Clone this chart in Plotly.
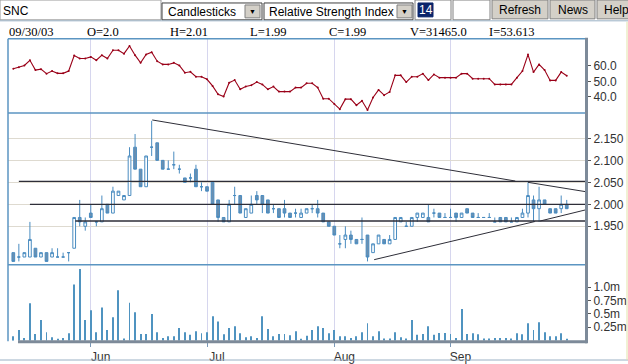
import plotly.graph_objects as go

W, H = 628, 364

# ---------------- data ----------------
open_ = [1.89,1.88,1.88,1.88,1.90,1.88,1.89,1.88,1.88,1.88,1.89,1.90,1.97,1.95,1.98,1.96,1.96,2.00,1.98,2.02,
         2.01,2.02,2.13,2.08,2.04,2.13,2.14,2.10,2.08,2.09,2.08,2.06,2.06,2.08,2.04,2.04,2.05,2.01,1.97,1.96,
         2.02,2.02,1.97,1.98,2.02,2.02,2.01,1.99,1.99,1.99,1.98,1.98,1.97,1.98,1.99,1.99,1.98,1.96,1.95,1.91,
         1.92,1.93,1.92,1.92,1.93,1.89,1.91,1.92,1.91,1.92,1.96,1.95,1.95,1.97,1.97,1.97,1.98,1.98,1.97,1.97,
         1.98,1.97,1.99,1.98,1.97,1.97,1.97,1.96,1.97,1.97,1.96,1.96,1.97,1.98,2.01,1.99,2.01,1.99,1.99,1.99,2.00]
high = [1.89,1.91,1.89,1.96,1.90,1.89,1.89,1.90,1.90,1.89,1.89,1.97,2.01,1.97,2.00,1.96,2.02,2.00,2.04,2.03,
        2.02,2.13,2.16,2.08,2.11,2.19,2.14,2.10,2.10,2.12,2.09,2.06,2.07,2.09,2.05,2.04,2.05,2.01,1.97,2.01,
        2.04,2.02,1.99,2.02,2.03,2.02,2.01,2.00,1.99,2.01,1.98,1.99,1.99,1.99,2.00,2.01,1.98,1.96,1.95,1.93,
        1.95,1.94,1.92,1.97,1.93,1.91,1.93,1.92,1.93,1.97,1.97,1.96,1.97,1.98,1.98,2.00,1.99,1.98,1.98,1.99,
        1.98,1.98,1.99,1.98,1.98,1.97,1.98,1.97,1.97,1.97,1.97,1.97,1.99,2.05,2.02,2.04,2.01,1.99,1.99,2.02,2.01]
low = [1.87,1.87,1.88,1.88,1.88,1.88,1.87,1.88,1.88,1.88,1.87,1.90,1.95,1.94,1.97,1.95,1.96,1.98,1.98,2.02,
       2.01,2.02,2.08,2.04,2.04,2.11,2.10,2.08,2.08,2.08,2.07,2.05,2.05,2.04,2.03,2.03,2.00,1.96,1.96,1.96,
       2.00,1.98,1.97,1.98,2.00,1.98,1.98,1.98,1.97,1.97,1.97,1.97,1.97,1.98,1.98,1.97,1.96,1.95,1.93,1.90,
       1.90,1.91,1.91,1.91,1.87,1.89,1.91,1.91,1.91,1.92,1.96,1.95,1.95,1.96,1.97,1.96,1.97,1.97,1.97,1.97,
       1.96,1.97,1.98,1.97,1.97,1.97,1.97,1.96,1.96,1.96,1.96,1.96,1.97,1.97,1.96,1.96,2.00,1.98,1.98,1.98,1.99]
close = [1.87,1.88,1.89,1.92,1.88,1.89,1.87,1.89,1.88,1.88,1.89,1.97,1.96,1.96,1.97,1.96,1.99,1.98,2.03,2.03,
         2.02,2.11,2.08,2.04,2.11,2.13,2.10,2.08,2.08,2.09,2.08,2.05,2.06,2.04,2.04,2.03,2.00,1.97,1.96,2.00,
         2.02,1.98,1.99,2.00,2.01,2.00,1.98,1.99,1.97,1.98,1.97,1.98,1.98,1.99,1.99,1.98,1.96,1.95,1.93,1.91,
         1.93,1.92,1.91,1.92,1.88,1.91,1.93,1.91,1.92,1.97,1.97,1.95,1.97,1.98,1.98,1.96,1.98,1.97,1.97,1.97,
         1.97,1.98,1.98,1.97,1.97,1.97,1.97,1.96,1.96,1.96,1.96,1.97,1.98,2.02,1.99,2.01,2.00,1.98,1.98,2.00,1.99]
volume = [83000,200000,50000,700000,126000,385000,157000,65000,30000,50000,
          139000,1050000,1340000,385000,570000,157000,620000,200000,435000,940000,
          40000,710000,530000,126000,126000,500000,157000,50000,83000,83000,
          237000,157000,110000,176000,139000,157000,454000,360000,120000,237000,
          268000,139000,65000,83000,50000,454000,220000,83000,126000,126000,
          100000,176000,30000,90000,200000,268000,237000,139000,200000,83000,
          83000,50000,83000,157000,324000,83000,176000,40000,40000,157000,
          65000,40000,385000,110000,126000,268000,110000,145000,145000,126000,
          50000,590000,126000,139000,120000,40000,40000,50000,50000,50000,
          40000,139000,120000,324000,200000,343000,157000,83000,83000,139000,31465]
rsi = [58.2,59.2,60.3,63.7,57.3,57.9,55.0,56.7,55.2,55.2,56.7,66.8,64.8,64.8,65.9,63.7,67.0,64.8,70.2,70.2,
       68.0,73.0,67.0,62.0,67.4,68.9,63.1,61.0,61.0,62.0,60.3,55.6,56.2,53.0,53.0,51.3,47.0,41.6,40.1,49.1,
       50.8,44.8,46.6,47.4,49.5,48.0,44.8,46.6,43.3,43.3,43.3,45.9,45.9,48.7,48.7,45.9,38.7,38.7,35.2,31.9,
       38.4,38.4,34.5,37.3,31.3,39.5,44.4,41.0,43.1,53.9,53.9,49.5,53.0,53.0,55.0,50.8,54.5,52.4,52.4,52.4,
       52.4,55.0,55.0,51.7,51.7,51.7,51.7,48.0,48.0,48.0,48.0,52.4,56.7,67.4,56.0,61.0,57.3,50.6,50.6,56.0,53.613]
day_index = list(range(len(open_)))

month_ticks = [14, 35, 58, 79]
month_labels = ["Jun", "Jul", "Aug", "Sep"]
price_ticks = [1.95, 2.00, 2.05, 2.10, 2.15]
rsi_ticks = [40, 50, 60]
vol_ticks = [250000, 500000, 750000, 1000000]
vol_labels = ["0.25m", "0.5m", "0.75m", "1.0m"]

# user-drawn support/resistance lines (start day, start price, end day, end price)
level_start = [1.0, 3.0, 11.2]
level_price = [2.052, 2.000, 1.962]
trend_x0 = [25.1, 93.0, 65.2, 95.2]
trend_y0 = [2.192, 2.050, 1.874, 1.962]
trend_x1 = [90.7, 103.3, 94.3, 103.3]
trend_y1 = [2.053, 2.029, 1.961, 1.987]

symbol = "SNC"
info_labels = ["09/30/03", "O=2.0", "H=2.01", "L=1.99", "C=1.99", "V=31465.0", "I=53.613"]

# ---------------- styling ----------------
X_RANGE = [-0.96, 103.3]
BLUE = "#4a8cc0"
BORDER = "#5b95c2"
GRID_V = "#d6d6ee"
GRID_H = "#dedad0"
TXT = "#333333"


def px(x):
    return x / W


def py(y):
    return 1 - y / H


fig = go.Figure()

fig.add_trace(go.Bar(x=day_index, y=volume, width=0.17, marker=dict(color="#4f93c0", line=dict(width=0)),
                     xaxis="x", yaxis="y", hoverinfo="skip"))
fig.add_trace(go.Scatter(x=day_index, y=rsi, mode="lines+markers", line=dict(color="#9a0018", width=1.1),
                         marker=dict(size=2, color="#9a0018"), xaxis="x2", yaxis="y2", hoverinfo="skip"))
fig.add_trace(go.Candlestick(x=day_index, open=open_, high=high, low=low, close=close,
                             increasing=dict(line=dict(color=BLUE, width=1), fillcolor="#ffffff"),
                             decreasing=dict(line=dict(color=BLUE, width=1), fillcolor="#6b8fb0"),
                             whiskerwidth=0, xaxis="x3", yaxis="y3", hoverinfo="skip"))
for s, p in zip(level_start, level_price):
    fig.add_trace(go.Scatter(x=[s, X_RANGE[1]], y=[p, p], mode="lines", hoverinfo="skip",
                             line=dict(color="#2e2e38", width=1.3), xaxis="x3", yaxis="y3"))
for a, b, c, d in zip(trend_x0, trend_y0, trend_x1, trend_y1):
    fig.add_trace(go.Scatter(x=[a, c], y=[b, d], mode="lines", hoverinfo="skip",
                             line=dict(color="#2e2e38", width=1), xaxis="x3", yaxis="y3"))

xdom = [px(8), px(585)]
tickfont = dict(family="Liberation Sans, Arial", size=12, color=TXT)
common_x = dict(domain=xdom, range=X_RANGE, showgrid=True, gridcolor=GRID_V, gridwidth=1,
                zeroline=False, showline=False, tickvals=month_ticks)

fig.update_layout(
    width=W, height=H, margin=dict(l=0, r=0, t=0, b=0),
    paper_bgcolor="white", plot_bgcolor="white", showlegend=False, hovermode=False,
    title=dict(text=symbol, x=px(3), y=py(10.5), xref="paper", yref="paper", xanchor="left",
               yanchor="middle", font=dict(family="Liberation Sans, Arial", size=12, color="black")),
    xaxis=dict(**common_x, ticktext=month_labels, ticks="outside", ticklen=5, tickcolor="#7a98b8",
               tickfont=tickfont, ticklabelshift=10, anchor="y"),
    xaxis2=dict(**common_x, matches="x", showticklabels=False, anchor="y2"),
    xaxis3=dict(**common_x, matches="x", showticklabels=False, anchor="y3",
                rangeslider=dict(visible=False)),
    yaxis=dict(domain=[py(343.5), py(267)], range=[0, 1416700], side="right", anchor="x",
               tickvals=vol_ticks, ticktext=vol_labels, ticks="outside", ticklen=5, tickcolor="#555",
               showgrid=False, zeroline=False, tickfont=tickfont),
    yaxis2=dict(domain=[py(114), py(39)], range=[29.35, 77.74], side="right", anchor="x2",
                tickvals=rsi_ticks, tickformat=".1f", ticks="outside", ticklen=5, tickcolor="#555",
                showgrid=False, zeroline=False, tickfont=tickfont),
    yaxis3=dict(domain=[py(267), py(114)], range=[1.8623, 2.2077], side="right", anchor="x3",
                tickvals=price_ticks, tickformat=".3f", ticks="outside", ticklen=5, tickcolor="#555",
                showgrid=True, gridcolor=GRID_H, zeroline=False, tickfont=tickfont),
)

shapes = []


def line(x0, y0, x1, y1, color, width):
    shapes.append(dict(type="line", xref="paper", yref="paper", x0=px(x0), y0=py(y0), x1=px(x1), y1=py(y1),
                       line=dict(color=color, width=width)))


def rect(x0, y0, x1, y1, fill, color, width=1):
    shapes.append(dict(type="rect", xref="paper", yref="paper", x0=px(x0), y0=py(y0), x1=px(x1), y1=py(y1),
                       fillcolor=fill, line=dict(color=color, width=width), layer="below"))


# chart frame
line(8, 39, 8, 344, BORDER, 1.5)
line(8, 39, 585, 39, BORDER, 1.5)
line(8, 114, 585, 114, BORDER, 1.5)
line(8, 267, 585, 267, BORDER, 1.5)
line(18, 344.5, 587, 344.5, "#7d8a99", 3)
line(586.5, 38, 586.5, 346, "#7d8a99", 3)
# page lines
line(0, 21, 628, 21, "#9ab0c4", 1)
line(0, 363, 628, 363, "#9ab0c4", 1)
line(627, 22, 627, 363, "#e2e2a8", 1)

# toolbar
rect(0, 0, 161, 20, "white", "#9a9a9a")
rect(162, 3, 262, 20, "white", "#404040")
rect(245, 5, 260, 18, "#d4d0c8", "#808080")
rect(264, 3, 413, 20, "white", "#404040")
rect(397, 5, 412, 18, "#d4d0c8", "#808080")
rect(415, 0, 451, 20, "white", "#808080")
rect(418, 3, 433, 17, "#0a246a", "#0a246a")
rect(453, 0, 490, 20, "white", "#808080")
rect(492, 0, 548, 19, "#d4d0c8", "#808080")
rect(550, 0, 595, 19, "#d4d0c8", "#808080")
rect(597, 0, 640, 19, "#d4d0c8", "#808080")
fig.update_layout(shapes=shapes)

ann = []
sans = "Liberation Sans, Arial"


def text(x, y, s, size=12, color="black", anchor="left", family=sans):
    ann.append(dict(x=px(x), y=py(y), xref="paper", yref="paper", text=s, showarrow=False,
                    xanchor=anchor, yanchor="middle", font=dict(family=family, size=size, color=color)))


text(166, 12, "Candlesticks")
text(267, 12, "Relative Strength Index")
text(252.5, 11.5, "▼", size=7, anchor="center")
text(404.5, 11.5, "▼", size=7, anchor="center")
text(425.5, 10.5, "14", color="white", anchor="center")
text(520, 10.5, "Refresh", anchor="center")
text(572.5, 10.5, "News", anchor="center")
text(602, 10.5, "Help")
info_x = [7, 85, 168, 248, 327, 408, 487]
for x, s in zip(info_x, info_labels):
    text(x, 32, s, size=12.5, family="Liberation Serif, Times New Roman")
fig.update_layout(annotations=ann)

fig.write_html("out.html", config={"displayModeBar": False})
